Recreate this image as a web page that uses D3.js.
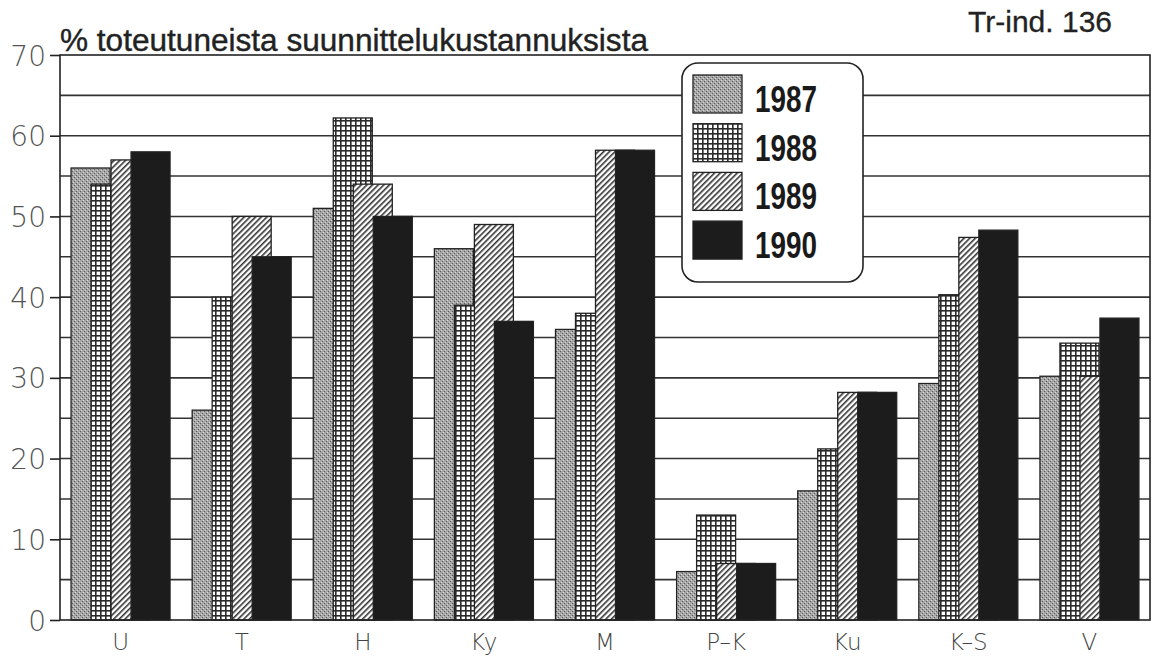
<!DOCTYPE html>
<html>
<head>
<meta charset="utf-8">
<script src="https://cdn.jsdelivr.net/npm/d3@7"></script>
<style>
  body { margin: 0; background: #fff; }
  svg text { font-family: "Liberation Sans", Arial, sans-serif; }
</style>
</head>
<body>
<div id="chart"></div>
<script>
// Datos
const categories = ['U', 'T', 'H', 'Ky', 'M', 'P\u2013K', 'Ku', 'K\u2013S', 'V'];
const years = ['1987', '1988', '1989', '1990'];
const values1987 = [56, 26, 51, 46, 36, 6, 16, 29.3, 30.2];
const values1988 = [54, 40, 62.2, 39, 38, 13, 21.2, 40.3, 34.3];
const values1989 = [57, 50, 54, 49, 58.2, 7, 28.2, 47.4, 30.2];
const values1990 = [58, 45, 50, 37, 58.2, 7, 28.2, 48.3, 37.4];
const yTicks = [0, 10, 20, 30, 40, 50, 60, 70];

const series = [values1987, values1988, values1989, values1990];

const W = 1155, H = 665;
const margin = {top: 55, right: 5, bottom: 45, left: 60};
const width = W - margin.left - margin.right,
      height = H - margin.top - margin.bottom;

const svg = d3.select('#chart').append('svg')
    .attr('width', W).attr('height', H);

// Patrones
const defs = svg.append('defs');

// 1987: gris punteado
const p1 = defs.append('pattern').attr('id', 'pat1987')
    .attr('patternUnits', 'userSpaceOnUse').attr('width', 4).attr('height', 4);
p1.append('rect').attr('width', 4).attr('height', 4).attr('fill', '#a6a6a6');
p1.append('rect').attr('x', 0).attr('y', 0).attr('width', 1).attr('height', 1).attr('fill', '#5a5a5a');
p1.append('rect').attr('x', 2).attr('y', 2).attr('width', 1).attr('height', 1).attr('fill', '#5a5a5a');
p1.append('rect').attr('x', 3).attr('y', 1).attr('width', 1).attr('height', 1).attr('fill', '#d6d6d6');
p1.append('rect').attr('x', 1).attr('y', 3).attr('width', 1).attr('height', 1).attr('fill', '#d6d6d6');

// 1988: cuadrícula
const p2 = defs.append('pattern').attr('id', 'pat1988')
    .attr('patternUnits', 'userSpaceOnUse').attr('width', 5).attr('height', 5);
p2.append('rect').attr('width', 5).attr('height', 5).attr('fill', '#fff');
p2.append('rect').attr('x', 0).attr('y', 0).attr('width', 5).attr('height', 1.6).attr('fill', '#2a2a2a');
p2.append('rect').attr('x', 0).attr('y', 0).attr('width', 1.6).attr('height', 5).attr('fill', '#2a2a2a');

// 1989: rayado diagonal
const p3 = defs.append('pattern').attr('id', 'pat1989')
    .attr('patternUnits', 'userSpaceOnUse').attr('width', 4).attr('height', 4)
    .attr('patternTransform', 'rotate(45)');
p3.append('rect').attr('width', 4).attr('height', 4).attr('fill', '#fff');
p3.append('rect').attr('x', 0).attr('y', 0).attr('width', 1.6).attr('height', 4).attr('fill', '#333');

const fills = ['url(#pat1987)', 'url(#pat1988)', 'url(#pat1989)', '#1c1c1c'];

const g = svg.append('g')
    .attr('transform', 'translate(' + margin.left + ',' + margin.top + ')');

// Escalas
const x = d3.scaleBand()
    .domain(categories)
    .range([0, width]);

const y = d3.scaleLinear()
    .domain([0, 70])
    .range([height, 0]);

const barW = 39, step = 20;
const groupW = step * (years.length - 1) + barW;

// Líneas de cuadrícula cada 5
g.append('g').selectAll('line')
    .data(d3.range(5, 70, 5))
    .enter().append('line')
    .attr('x1', 0).attr('x2', width)
    .attr('y1', d => y(d)).attr('y2', d => y(d))
    .attr('stroke', '#333').attr('stroke-width', 1.6);

// Barras
series.forEach(function(vals, i) {
    g.append('g').selectAll('rect')
        .data(vals)
        .enter().append('rect')
        .attr('x', (d, j) => x(categories[j]) + x.bandwidth() / 2 - groupW / 2 + i * step)
        .attr('y', d => y(d))
        .attr('width', barW)
        .attr('height', d => y(0) - y(d))
        .attr('fill', fills[i])
        .attr('stroke', '#222')
        .attr('stroke-width', 1.3);
});

// Marco
g.append('rect')
    .attr('x', 0).attr('y', 0).attr('width', width).attr('height', height)
    .attr('fill', 'none').attr('stroke', '#222').attr('stroke-width', 1.6);

// Eje Y
const yAxis = g.append('g')
    .call(d3.axisLeft(y).tickValues(yTicks).tickSize(10).tickPadding(4));
yAxis.select('.domain').remove();
yAxis.selectAll('line').attr('stroke', '#222').attr('stroke-width', 1.6);
yAxis.selectAll('text')
    .attr('font-size', 28).attr('fill', '#555')
    .style('font-family', '"DejaVu Sans", sans-serif').style('font-weight', 200)
    .attr('dy', '0.36em');

// Eje X
const xAxis = g.append('g')
    .attr('transform', 'translate(0,' + height + ')')
    .call(d3.axisBottom(x).tickSize(0).tickPadding(14));
xAxis.select('.domain').remove();
xAxis.selectAll('text')
    .attr('font-size', 23).attr('fill', '#444')
    .style('font-family', '"DejaVu Sans", sans-serif').style('font-weight', 200)
    .attr('dy', '0.71em');

// Leyenda
const leg = svg.append('g').attr('transform', 'translate(682,63)');
leg.append('rect')
    .attr('width', 181).attr('height', 219).attr('rx', 16).attr('ry', 16)
    .attr('fill', '#fff').attr('stroke', '#222').attr('stroke-width', 1.6);
years.forEach(function(yr, i) {
    leg.append('rect')
        .attr('x', 11).attr('y', 12 + i * 48.7)
        .attr('width', 49).attr('height', 38)
        .attr('fill', fills[i]).attr('stroke', '#222').attr('stroke-width', 1.3);
    leg.append('text')
        .attr('x', 73).attr('y', 12 + i * 48.7 + 37)
        .attr('font-size', 37).attr('font-weight', 'bold')
        .attr('fill', '#1a1a1a')
        .attr('textLength', 62).attr('lengthAdjust', 'spacingAndGlyphs')
        .text(yr);
});

// Títulos
svg.append('text')
    .attr('x', 60).attr('y', 51)
    .attr('font-size', 31).attr('fill', '#222')
    .attr('stroke', '#222').attr('stroke-width', 0.4)
    .attr('textLength', 588).attr('lengthAdjust', 'spacingAndGlyphs')
    .text('% toteutuneista suunnittelukustannuksista');

svg.append('text')
    .attr('x', 1112).attr('y', 32).attr('text-anchor', 'end')
    .attr('font-size', 30).attr('fill', '#222')
    .attr('stroke', '#222').attr('stroke-width', 0.3)
    .text('Tr-ind. 136');
</script>
</body>
</html>
